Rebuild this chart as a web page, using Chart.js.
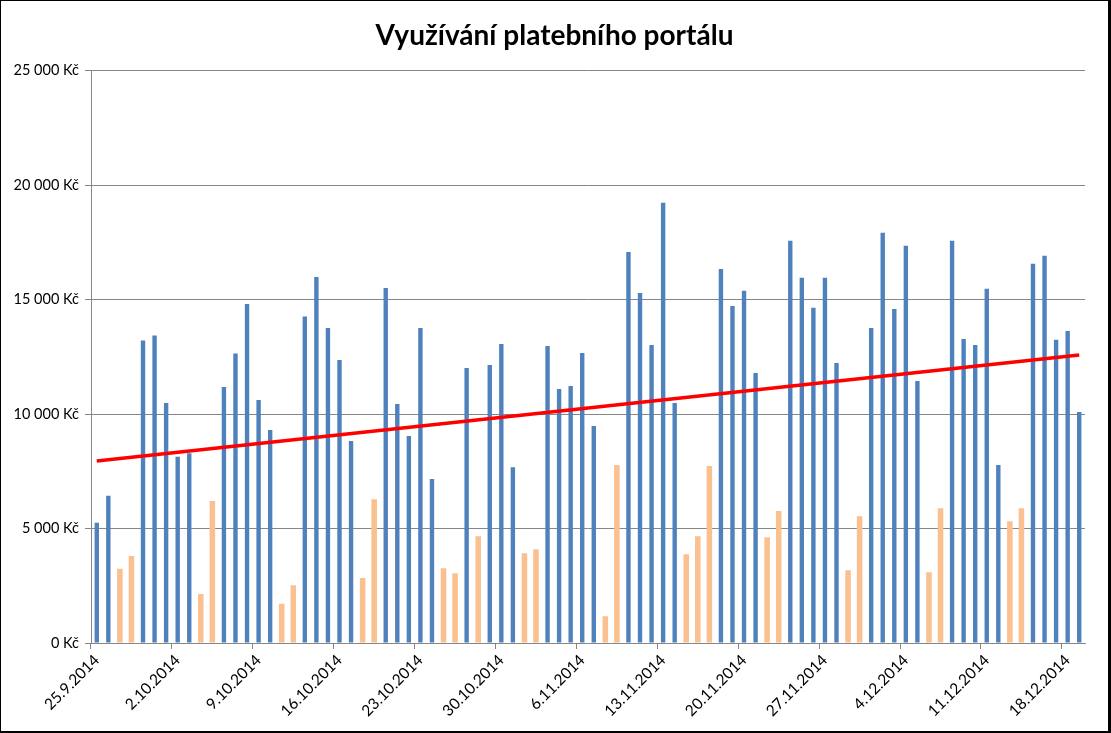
<!DOCTYPE html>
<html lang="cs">
<head>
<meta charset="utf-8">
<title>Využívání platebního portálu</title>
<script src="https://cdn.jsdelivr.net/npm/chart.js@4/dist/chart.umd.min.js"></script>
<style>
    html, body { margin: 0; padding: 0; background: #000; }
    #wrap { position: absolute; left: 1px; top: 1px; width: 1107px; height: 730px; background: #fff; }
</style>
</head>
<body>
<div id="wrap"><canvas id="chart" width="1107" height="730"></canvas></div>
<script>
// Daily categories (25.9.2014 - 19.12.2014)
const dates = [
    '25.9.2014', '26.9.2014', '27.9.2014', '28.9.2014', '29.9.2014', '30.9.2014',
    '1.10.2014', '2.10.2014', '3.10.2014', '4.10.2014', '5.10.2014', '6.10.2014', '7.10.2014',
    '8.10.2014', '9.10.2014', '10.10.2014', '11.10.2014', '12.10.2014', '13.10.2014', '14.10.2014',
    '15.10.2014', '16.10.2014', '17.10.2014', '18.10.2014', '19.10.2014', '20.10.2014', '21.10.2014',
    '22.10.2014', '23.10.2014', '24.10.2014', '25.10.2014', '26.10.2014', '27.10.2014', '28.10.2014',
    '29.10.2014', '30.10.2014', '31.10.2014',
    '1.11.2014', '2.11.2014', '3.11.2014', '4.11.2014', '5.11.2014', '6.11.2014', '7.11.2014',
    '8.11.2014', '9.11.2014', '10.11.2014', '11.11.2014', '12.11.2014', '13.11.2014', '14.11.2014',
    '15.11.2014', '16.11.2014', '17.11.2014', '18.11.2014', '19.11.2014', '20.11.2014', '21.11.2014',
    '22.11.2014', '23.11.2014', '24.11.2014', '25.11.2014', '26.11.2014', '27.11.2014', '28.11.2014',
    '29.11.2014', '30.11.2014',
    '1.12.2014', '2.12.2014', '3.12.2014', '4.12.2014', '5.12.2014', '6.12.2014', '7.12.2014',
    '8.12.2014', '9.12.2014', '10.12.2014', '11.12.2014', '12.12.2014', '13.12.2014', '14.12.2014',
    '15.12.2014', '16.12.2014', '17.12.2014', '18.12.2014', '19.12.2014'
];

// Amount paid per day (Kč)
const amounts = [
    5250, 6430, 3240, 3800, 13210, 13430, 10480, 8130, 8290, 2140,
    6200, 11180, 12640, 14810, 10610, 9300, 1710, 2520, 14260, 15990,
    13760, 12360, 8820, 2840, 6280, 15510, 10440, 9040, 13760, 7160,
    3270, 3050, 12010, 4660, 12140, 13060, 7680, 3920, 4100, 12970,
    11090, 11220, 12670, 9480, 1170, 7770, 17080, 15290, 13020, 19230,
    10480, 3880, 4660, 7730, 16340, 14720, 15380, 11790, 4620, 5760,
    17570, 15950, 14640, 15950, 12230, 3180, 5540, 13760, 17920, 14590,
    17350, 11440, 3090, 5890, 17570, 13280, 13020, 15470, 7770, 5320,
    5890, 16560, 16910, 13240, 13630, 10090
];

// 1 = weekend / public holiday
const freeDay = [
    0, 0, 1, 1, 0, 0, 0, 0, 0, 1,
    1, 0, 0, 0, 0, 0, 1, 1, 0, 0,
    0, 0, 0, 1, 1, 0, 0, 0, 0, 0,
    1, 1, 0, 1, 0, 0, 0, 1, 1, 0,
    0, 0, 0, 0, 1, 1, 0, 0, 0, 0,
    0, 1, 1, 1, 0, 0, 0, 0, 1, 1,
    0, 0, 0, 0, 0, 1, 1, 0, 0, 0,
    0, 0, 1, 1, 0, 0, 0, 0, 0, 1,
    1, 0, 0, 0, 0, 0
];

// Linear trend line, value at first and last day
const trendEnds = [7950, 12580];

const yTicks = [0, 5000, 10000, 15000, 20000, 25000];

const workdayData = amounts.map((v, i) => freeDay[i] ? null : v);
const freeDayData = amounts.map((v, i) => freeDay[i] ? v : null);
const trendData = dates.map((d, i) => {
    if (i === 0) return trendEnds[0];
    if (i === dates.length - 1) return trendEnds[1];
    return null;
});

function formatKc(value) {
    return String(value).replace(/\B(?=(\d{3})+(?!\d))/g, ' ') + ' Kč';
}

const gridColor = '#868686';

// centre the title over the whole frame, not only the area left of the right padding
const centerTitle = {
    id: 'centerTitle',
    afterLayout(chart) {
        if (chart.titleBlock) chart.titleBlock.left = 23;
    }
};

new Chart(document.getElementById('chart').getContext('2d'), {
    data: {
        labels: dates,
        datasets: [
            {
                type: 'line',
                label: 'Trend',
                data: trendData,
                borderColor: '#FF0000',
                borderWidth: 3.5,
                pointRadius: 0,
                spanGaps: true,
                order: 0
            },
            {
                type: 'bar',
                label: 'Pracovní dny',
                data: workdayData,
                backgroundColor: '#4F81BD',
                barPercentage: 0.38,
                categoryPercentage: 1,
                grouped: false,
                order: 1
            },
            {
                type: 'bar',
                label: 'Víkendy a svátky',
                data: freeDayData,
                backgroundColor: '#FAC090',
                barPercentage: 0.48,
                categoryPercentage: 1,
                grouped: false,
                order: 2
            }
        ]
    },
    options: {
        responsive: false,
        animation: false,
        layout: { padding: { left: 0, right: 23, top: 0, bottom: 0 } },
        plugins: {
            legend: { display: false },
            tooltip: { enabled: false },
            title: {
                display: true,
                text: 'Využívání platebního portálu',
                color: '#000',
                font: { family: 'Lato', size: 28, weight: 'bold' },
                padding: { top: 18, bottom: 18 }
            }
        },
        scales: {
            x: {
                offset: true,
                grid: {
                    offset: true,
                    drawOnChartArea: false,
                    tickLength: 6,
                    color: ctx => ctx.index % 7 === 0 ? gridColor : 'rgba(0,0,0,0)'
                },
                border: { color: gridColor },
                ticks: {
                    autoSkip: false,
                    maxRotation: 45,
                    minRotation: 45,
                    color: '#000',
                    font: { family: 'Lato', size: 15.5 },
                    padding: 2,
                    callback: (v, i) => i % 7 === 0 ? dates[i] : ''
                },
                afterFit: scale => { scale.height = 88; }
            },
            y: {
                min: 0,
                max: 25000,
                afterBuildTicks: scale => { scale.ticks = yTicks.map(v => ({ value: v })); },
                grid: { color: gridColor, tickLength: 6 },
                border: { color: gridColor },
                ticks: {
                    color: '#000',
                    font: { family: 'Lato', size: 14.5 },
                    padding: 6,
                    callback: v => formatKc(v)
                },
                afterFit: scale => { scale.width = 90; }
            }
        }
    },
    plugins: [centerTitle]
});
</script>
</body>
</html>
